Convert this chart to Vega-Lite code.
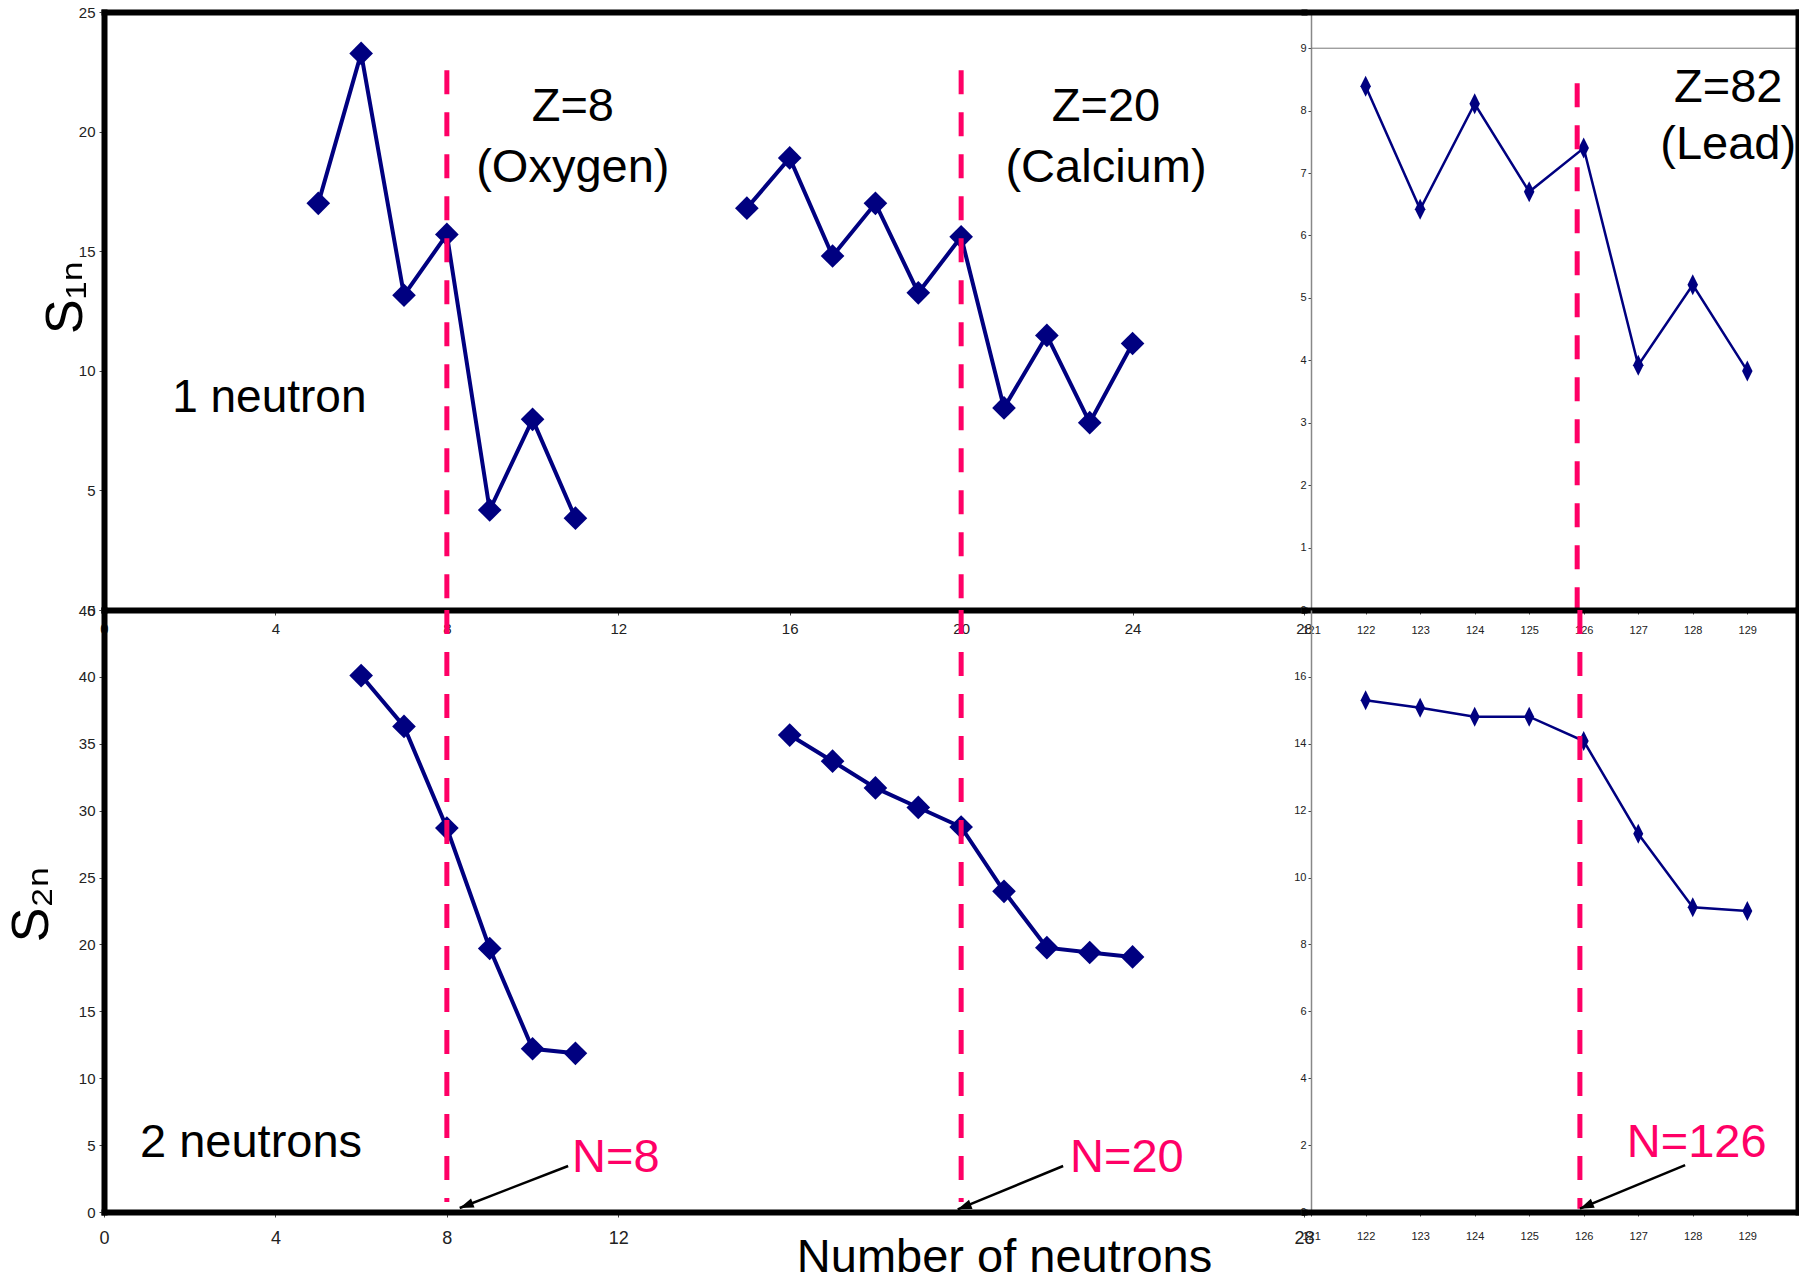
{
  "$schema": "https://vega.github.io/schema/vega-lite/v6.json",
  "padding": {"left": 5, "top": 5, "right": 0, "bottom": 0},
  "background": "white",
  "config": {
    "view": {"stroke": null},
    "font": "Liberation Sans, DejaVu Sans",
    "axis": {"grid": false, "labelFont": "Liberation Sans", "titleFont": "Liberation Sans, DejaVu Sans", "titleFontWeight": "normal", "titleColor": "black", "labelColor": "#222", "tickColor": "#444", "labelFlush": false, "labelOverlap": false}
  },
  "datasets": {
    "s1n": [
      {"element": "O", "N": 5, "S": 17.0}, {"element": "O", "N": 6, "S": 23.27}, {"element": "O", "N": 7, "S": 13.16}, {"element": "O", "N": 8, "S": 15.7}, {"element": "O", "N": 9, "S": 4.18}, {"element": "O", "N": 10, "S": 7.97}, {"element": "O", "N": 11, "S": 3.84},
      {"element": "Ca", "N": 15, "S": 16.8}, {"element": "Ca", "N": 16, "S": 18.9}, {"element": "Ca", "N": 17, "S": 14.8}, {"element": "Ca", "N": 18, "S": 17.0}, {"element": "Ca", "N": 19, "S": 13.26}, {"element": "Ca", "N": 20, "S": 15.6}, {"element": "Ca", "N": 21, "S": 8.45}, {"element": "Ca", "N": 22, "S": 11.48}, {"element": "Ca", "N": 23, "S": 7.83}, {"element": "Ca", "N": 24, "S": 11.14}
    ],
    "s2n": [
      {"element": "O", "N": 6, "S": 40.1}, {"element": "O", "N": 7, "S": 36.3}, {"element": "O", "N": 8, "S": 28.7}, {"element": "O", "N": 9, "S": 19.7}, {"element": "O", "N": 10, "S": 12.2}, {"element": "O", "N": 11, "S": 11.86},
      {"element": "Ca", "N": 16, "S": 35.65}, {"element": "Ca", "N": 17, "S": 33.7}, {"element": "Ca", "N": 18, "S": 31.7}, {"element": "Ca", "N": 19, "S": 30.24}, {"element": "Ca", "N": 20, "S": 28.78}, {"element": "Ca", "N": 21, "S": 23.97}, {"element": "Ca", "N": 22, "S": 19.76}, {"element": "Ca", "N": 23, "S": 19.4}, {"element": "Ca", "N": 24, "S": 19.07}
    ],
    "pb_s1n": [
      {"element": "Pb", "N": 122, "S": 8.39}, {"element": "Pb", "N": 123, "S": 6.42}, {"element": "Pb", "N": 124, "S": 8.11}, {"element": "Pb", "N": 125, "S": 6.7}, {"element": "Pb", "N": 126, "S": 7.4}, {"element": "Pb", "N": 127, "S": 3.92}, {"element": "Pb", "N": 128, "S": 5.21}, {"element": "Pb", "N": 129, "S": 3.83}
    ],
    "pb_s2n": [
      {"element": "Pb", "N": 122, "S": 15.3}, {"element": "Pb", "N": 123, "S": 15.08}, {"element": "Pb", "N": 124, "S": 14.81}, {"element": "Pb", "N": 125, "S": 14.81}, {"element": "Pb", "N": 126, "S": 14.08}, {"element": "Pb", "N": 127, "S": 11.31}, {"element": "Pb", "N": 128, "S": 9.11}, {"element": "Pb", "N": 129, "S": 9.0}
    ],
    "magic_light": [{"N": 8}, {"N": 20}]
  },
  "bounds": "flush",
  "spacing": 0,
  "align": "each",
  "columns": 2,
  "concat": [
    {
      "width": 1200,
      "height": 598,
      "resolve": {"axis": {"x": "independent", "y": "independent"}},
      "layer": [
        {
          "data": {"name": "s1n"},
          "mark": {"type": "line", "color": "#000080", "strokeWidth": 4, "point": {"shape": "diamond", "size": 560, "filled": true, "color": "#000080", "opacity": 1}},
          "encoding": {
            "x": {"field": "N", "type": "quantitative", "scale": {"domain": [0, 28], "nice": false, "zero": false},
              "axis": {"orient": "bottom", "values": [0, 4, 8, 12, 16, 20, 24, 28], "domainColor": "black", "domainWidth": 6, "domainCap": "square", "tickSize": 5, "labelFontSize": 15, "labelPadding": 6, "title": null, "zindex": 2}},
            "y": {"field": "S", "type": "quantitative", "scale": {"domain": [0, 25], "nice": false, "zero": false},
              "axis": {"orient": "left", "values": [0, 5, 10, 15, 20, 25], "domainColor": "black", "domainWidth": 6, "domainCap": "square", "tickSize": 5, "labelFontSize": 15, "labelPadding": 4, "title": "S₁ₙ", "titleFontSize": 52, "titleAngle": -90, "titleAlign": "center", "titleBaseline": "alphabetic", "titleX": -23, "titleY": 285, "zindex": 2}},
            "detail": {"field": "element"},
            "order": {"field": "N"}
          }
        },
        {
          "data": {"name": "magic_light"},
          "mark": {"type": "rule", "color": "#FF0066", "strokeWidth": 5, "strokeDash": [24, 18]},
          "encoding": {
            "x": {"field": "N", "type": "quantitative", "axis": {"orient": "top", "domainColor": "black", "domainWidth": 6, "domainCap": "square", "ticks": false, "labels": false, "title": null, "zindex": 2}},
            "y": {"datum": 22.57, "axis": null},
            "y2": {"datum": 0}
          }
        },
        {"data": {"values": [{}]}, "mark": {"type": "text", "text": "Z=8", "fontSize": 47, "align": "center", "baseline": "alphabetic", "color": "black"}, "encoding": {"x": {"datum": 10.94, "axis": null}, "y": {"datum": 20.45, "axis": null}}},
        {"data": {"values": [{}]}, "mark": {"type": "text", "text": "(Oxygen)", "fontSize": 47, "align": "center", "baseline": "alphabetic", "color": "black"}, "encoding": {"x": {"datum": 10.94, "axis": null}, "y": {"datum": 17.9, "axis": null}}},
        {"data": {"values": [{}]}, "mark": {"type": "text", "text": "Z=20", "fontSize": 47, "align": "center", "baseline": "alphabetic", "color": "black"}, "encoding": {"x": {"datum": 23.38, "axis": null}, "y": {"datum": 20.45, "axis": null}}},
        {"data": {"values": [{}]}, "mark": {"type": "text", "text": "(Calcium)", "fontSize": 47, "align": "center", "baseline": "alphabetic", "color": "black"}, "encoding": {"x": {"datum": 23.38, "axis": null}, "y": {"datum": 17.9, "axis": null}}},
        {"data": {"values": [{}]}, "mark": {"type": "text", "text": "1 neutron", "fontSize": 46, "align": "left", "baseline": "alphabetic", "color": "black"}, "encoding": {"x": {"datum": 1.59, "axis": null}, "y": {"datum": 8.28, "axis": null}}}
      ]
    },
    {
      "width": 494,
      "height": 598,
      "resolve": {"axis": {"x": "independent", "y": "independent"}},
      "layer": [
        {
          "data": {"name": "pb_s1n"},
          "mark": {"type": "line", "color": "#000080", "strokeWidth": 2.5, "point": {"shape": "M-0.5,0L0,-1L0.5,0L0,1Z", "size": 440, "filled": true, "color": "#000080", "opacity": 1}},
          "encoding": {
            "x": {"field": "N", "type": "quantitative", "scale": {"domain": [120.87, 129.93], "nice": false, "zero": false},
              "axis": {"orient": "bottom", "values": [121, 122, 123, 124, 125, 126, 127, 128, 129], "domainColor": "black", "domainWidth": 6, "domainCap": "square", "tickSize": 4, "labelFont": "Liberation Sans Narrow, Liberation Sans", "labelFontSize": 11, "labelPadding": 10, "title": null, "zindex": 2}},
            "y": {"field": "S", "type": "quantitative", "scale": {"domain": [0, 9.58], "nice": false, "zero": false},
              "axis": {"orient": "left", "offset": -7, "values": [0, 1, 2, 3, 4, 5, 6, 7, 8, 9], "domainColor": "#888", "domainWidth": 1.5, "tickSize": 3, "labelFont": "Liberation Sans Narrow, Liberation Sans", "labelFontSize": 11, "labelPadding": 2, "title": null}}
          }
        },
        {
          "data": {"values": [{}]},
          "mark": {"type": "rule", "color": "#777", "strokeWidth": 1},
          "encoding": {
            "x": {"datum": 121, "axis": {"orient": "top", "domainColor": "black", "domainWidth": 6, "domainCap": "square", "ticks": false, "labels": false, "title": null, "zindex": 2}},
            "x2": {"datum": 129.93},
            "y": {"datum": 9, "axis": {"orient": "right", "domainColor": "black", "domainWidth": 6, "domainCap": "square", "ticks": false, "labels": false, "title": null, "zindex": 2}}
          }
        },
        {
          "data": {"values": [{}]},
          "mark": {"type": "rule", "color": "#FF0066", "strokeWidth": 5, "strokeDash": [24, 18]},
          "encoding": {"x": {"datum": 125.88, "axis": null}, "y": {"datum": 8.44, "axis": null}, "y2": {"datum": 0}}
        },
        {"data": {"values": [{}]}, "mark": {"type": "text", "text": "Z=82", "fontSize": 47, "align": "center", "baseline": "alphabetic", "color": "black"}, "encoding": {"x": {"datum": 128.65, "axis": null}, "y": {"datum": 8.14, "axis": null}}},
        {"data": {"values": [{}]}, "mark": {"type": "text", "text": "(Lead)", "fontSize": 47, "align": "center", "baseline": "alphabetic", "color": "black"}, "encoding": {"x": {"datum": 128.65, "axis": null}, "y": {"datum": 7.23, "axis": null}}}
      ]
    },
    {
      "width": 1200,
      "height": 602,
      "resolve": {"axis": {"x": "independent", "y": "independent"}},
      "layer": [
        {
          "data": {"name": "s2n"},
          "mark": {"type": "line", "color": "#000080", "strokeWidth": 4, "point": {"shape": "diamond", "size": 560, "filled": true, "color": "#000080", "opacity": 1}},
          "encoding": {
            "x": {"field": "N", "type": "quantitative", "scale": {"domain": [0, 28], "nice": false, "zero": false},
              "axis": {"orient": "bottom", "values": [0, 4, 8, 12, 28], "domainColor": "black", "domainWidth": 6, "domainCap": "square", "tickSize": 5, "labelFont": "Liberation Sans Narrow, Liberation Sans", "labelFontSize": 18, "labelPadding": 12, "title": "Number of neutrons", "titleFontSize": 47, "titleAlign": "center", "titleBaseline": "alphabetic", "titleX": 900, "titleY": 59, "zindex": 2}},
            "y": {"field": "S", "type": "quantitative", "scale": {"domain": [0, 45], "nice": false, "zero": false},
              "axis": {"orient": "left", "values": [0, 5, 10, 15, 20, 25, 30, 35, 40, 45], "domainColor": "black", "domainWidth": 6, "domainCap": "square", "tickSize": 5, "labelFontSize": 15, "labelPadding": 4, "title": "S₂ₙ", "titleFontSize": 52, "titleAngle": -90, "titleAlign": "center", "titleBaseline": "alphabetic", "titleX": -57, "titleY": 294, "zindex": 2}},
            "detail": {"field": "element"},
            "order": {"field": "N"}
          }
        },
        {
          "data": {"name": "magic_light"},
          "mark": {"type": "rule", "color": "#FF0066", "strokeWidth": 5, "strokeDash": [24, 18]},
          "encoding": {
            "x": {"field": "N", "type": "quantitative", "axis": null},
            "y": {"datum": 45, "axis": null},
            "y2": {"datum": 0.75}
          }
        },
        {"data": {"values": [{}]}, "mark": {"type": "text", "text": "2 neutrons", "fontSize": 47, "align": "left", "baseline": "alphabetic", "color": "black"}, "encoding": {"x": {"datum": 0.84, "axis": null}, "y": {"datum": 4.1, "axis": null}}},
        {"data": {"values": [{}]}, "mark": {"type": "text", "text": "N=8", "fontSize": 47, "align": "left", "baseline": "alphabetic", "color": "#FF0066"}, "encoding": {"x": {"datum": 10.92, "axis": null}, "y": {"datum": 3.0, "axis": null}}},
        {"data": {"values": [{}]}, "mark": {"type": "text", "text": "N=20", "fontSize": 47, "align": "left", "baseline": "alphabetic", "color": "#FF0066"}, "encoding": {"x": {"datum": 22.54, "axis": null}, "y": {"datum": 3.0, "axis": null}}},
        {"data": {"values": [{}]}, "mark": {"type": "rule", "color": "black", "strokeWidth": 2.5}, "encoding": {"x": {"datum": 10.83, "axis": null}, "y": {"datum": 3.44, "axis": null}, "x2": {"datum": 8.3}, "y2": {"datum": 0.3}}},
        {"data": {"values": [{}]}, "mark": {"type": "point", "shape": "M0,0L-0.7,2L0.7,2Z", "size": 196, "filled": true, "color": "black", "opacity": 1, "angle": 249}, "encoding": {"x": {"datum": 8.3, "axis": null}, "y": {"datum": 0.3, "axis": null}}},
        {"data": {"values": [{}]}, "mark": {"type": "rule", "color": "black", "strokeWidth": 2.5}, "encoding": {"x": {"datum": 22.38, "axis": null}, "y": {"datum": 3.44, "axis": null}, "x2": {"datum": 19.92}, "y2": {"datum": 0.2}}},
        {"data": {"values": [{}]}, "mark": {"type": "point", "shape": "M0,0L-0.7,2L0.7,2Z", "size": 196, "filled": true, "color": "black", "opacity": 1, "angle": 249}, "encoding": {"x": {"datum": 19.92, "axis": null}, "y": {"datum": 0.2, "axis": null}}}
      ]
    },
    {
      "width": 494,
      "height": 602,
      "resolve": {"axis": {"x": "independent", "y": "independent"}},
      "layer": [
        {
          "data": {"name": "pb_s2n"},
          "mark": {"type": "line", "color": "#000080", "strokeWidth": 2.5, "point": {"shape": "M-0.5,0L0,-1L0.5,0L0,1Z", "size": 400, "filled": true, "color": "#000080", "opacity": 1}},
          "encoding": {
            "x": {"field": "N", "type": "quantitative", "scale": {"domain": [120.87, 129.93], "nice": false, "zero": false},
              "axis": {"orient": "bottom", "values": [121, 122, 123, 124, 125, 126, 127, 128, 129], "domainColor": "black", "domainWidth": 6, "domainCap": "square", "tickSize": 4, "labelFont": "Liberation Sans Narrow, Liberation Sans", "labelFontSize": 11, "labelPadding": 14, "title": null, "zindex": 2}},
            "y": {"field": "S", "type": "quantitative", "scale": {"domain": [0, 18], "nice": false, "zero": false},
              "axis": {"orient": "left", "offset": -7, "values": [0, 2, 4, 6, 8, 10, 12, 14, 16], "domainColor": "#888", "domainWidth": 1.5, "tickSize": 3, "labelFont": "Liberation Sans Narrow, Liberation Sans", "labelFontSize": 11, "labelPadding": 2, "title": null}}
          }
        },
        {
          "data": {"values": [{}]},
          "mark": {"type": "rule", "color": "#FF0066", "strokeWidth": 5, "strokeDash": [24, 18]},
          "encoding": {
            "x": {"datum": 125.93, "axis": null},
            "y": {"datum": 18, "axis": {"orient": "right", "domainColor": "black", "domainWidth": 6, "domainCap": "square", "ticks": false, "labels": false, "title": null, "zindex": 2}},
            "y2": {"datum": 0.1}
          }
        },
        {"data": {"values": [{}]}, "mark": {"type": "text", "text": "N=126", "fontSize": 47, "align": "left", "baseline": "alphabetic", "color": "#FF0066"}, "encoding": {"x": {"datum": 126.79, "axis": null}, "y": {"datum": 1.64, "axis": null}}},
        {"data": {"values": [{}]}, "mark": {"type": "rule", "color": "black", "strokeWidth": 2.5}, "encoding": {"x": {"datum": 127.86, "axis": null}, "y": {"datum": 1.4, "axis": null}, "x2": {"datum": 125.93}, "y2": {"datum": 0.1}}},
        {"data": {"values": [{}]}, "mark": {"type": "point", "shape": "M0,0L-0.7,2L0.7,2Z", "size": 196, "filled": true, "color": "black", "opacity": 1, "angle": 247}, "encoding": {"x": {"datum": 125.93, "axis": null}, "y": {"datum": 0.1, "axis": null}}}
      ]
    }
  ]
}
